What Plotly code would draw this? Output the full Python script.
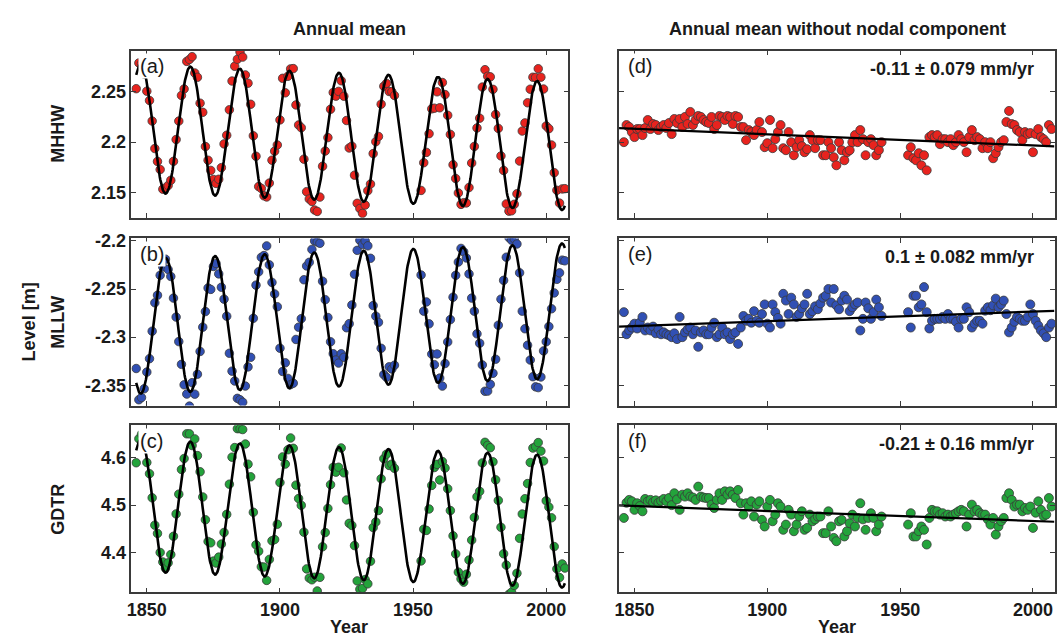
import numpy as np
import plotly.graph_objects as go

# ---------------- data ----------------
# Residual annual means (panels d, e, f), values in metres
years_early_start = 1846   # first segment 1846-1943
years_late_start = 1953    # second segment 1953-2007

mhhw_res_early = [
    2.200, 2.217, 2.215, 2.210,
    2.205, 2.213, 2.213, 2.207, 2.214, 2.222, 2.213, 2.218, 2.217, 2.212,
    2.215, 2.217, 2.214, 2.219, 2.208, 2.223, 2.219, 2.223, 2.215, 2.225,
    2.218, 2.230, 2.217, 2.222, 2.226, 2.225, 2.222, 2.220, 2.219, 2.225,
    2.213, 2.217, 2.226, 2.225, 2.222, 2.226, 2.225, 2.218, 2.226, 2.225,
    2.215, 2.215, 2.202, 2.212, 2.210, 2.207, 2.212, 2.220, 2.210, 2.195,
    2.199, 2.222, 2.194, 2.203, 2.210, 2.217, 2.194, 2.192, 2.210, 2.200,
    2.187, 2.195, 2.202, 2.196, 2.190, 2.193, 2.207, 2.202, 2.194, 2.202,
    2.202, 2.187, 2.187, 2.200, 2.194, 2.185, 2.177, 2.200, 2.192, 2.182,
    2.190, 2.192, 2.200, 2.207, 2.200, 2.212, 2.203, 2.187, 2.200, 2.203,
    2.197, 2.187, 2.192, 2.200]
mhhw_res_late = [
    2.187, 2.195, 2.184, 2.182, 2.189, 2.177, 2.187,
    2.172, 2.205, 2.207, 2.205, 2.207, 2.198, 2.203, 2.203, 2.200, 2.203,
    2.197, 2.200, 2.207, 2.203, 2.200, 2.190, 2.205, 2.212, 2.202, 2.205,
    2.203, 2.194, 2.200, 2.194, 2.200, 2.184, 2.189, 2.195, 2.200, 2.202,
    2.220, 2.231, 2.218, 2.217, 2.212, 2.210, 2.202, 2.210, 2.208, 2.209,
    2.190, 2.208, 2.213, 2.205, 2.203, 2.200, 2.217, 2.213]

mllw_res_early = [
    -2.274, -2.297, -2.293, -2.290,
    -2.286, -2.291, -2.285, -2.279, -2.293, -2.290, -2.293, -2.289, -2.296, -2.292,
    -2.297, -2.295, -2.297, -2.298, -2.300, -2.296, -2.302, -2.279, -2.300, -2.295,
    -2.292, -2.290, -2.297, -2.293, -2.310, -2.295, -2.293, -2.297, -2.297, -2.290,
    -2.285, -2.300, -2.297, -2.290, -2.297, -2.295, -2.302, -2.297, -2.295, -2.307,
    -2.290, -2.278, -2.283, -2.281, -2.285, -2.273, -2.283, -2.285, -2.276, -2.266,
    -2.286, -2.290, -2.266, -2.274, -2.280, -2.286, -2.255, -2.262, -2.276, -2.259,
    -2.266, -2.279, -2.276, -2.270, -2.266, -2.255, -2.276, -2.273, -2.268, -2.271,
    -2.265, -2.259, -2.257, -2.250, -2.264, -2.250, -2.267, -2.271, -2.262, -2.257,
    -2.261, -2.273, -2.269, -2.266, -2.264, -2.293, -2.281, -2.264, -2.270, -2.281,
    -2.274, -2.261, -2.269, -2.278]
mllw_res_late = [
    -2.274, -2.290, -2.257, -2.257, -2.269, -2.266, -2.248,
    -2.274, -2.291, -2.283, -2.281, -2.281, -2.281, -2.279, -2.281, -2.276, -2.281,
    -2.281, -2.284, -2.290, -2.281, -2.281, -2.269, -2.274, -2.290, -2.286, -2.283,
    -2.283, -2.286, -2.2725, -2.269, -2.272, -2.267, -2.260, -2.269, -2.266, -2.262,
    -2.276, -2.295, -2.290, -2.284, -2.279, -2.281, -2.283, -2.283, -2.279, -2.266,
    -2.276, -2.283, -2.288, -2.293, -2.296, -2.300, -2.290, -2.286]

gdtr_res_early = [
    4.473, 4.505, 4.511, 4.508,
    4.490, 4.504, 4.498, 4.487, 4.513, 4.508, 4.511, 4.506, 4.510, 4.505,
    4.509, 4.513, 4.508, 4.515, 4.500, 4.525, 4.512, 4.490, 4.522, 4.518,
    4.525, 4.518, 4.516, 4.511, 4.539, 4.518, 4.516, 4.515, 4.515, 4.501,
    4.494, 4.511, 4.525, 4.511, 4.529, 4.522, 4.529, 4.522, 4.515, 4.532,
    4.504, 4.480, 4.504, 4.497, 4.508, 4.476, 4.501, 4.508, 4.469, 4.455,
    4.497, 4.511, 4.466, 4.480, 4.504, 4.497, 4.448, 4.459, 4.490, 4.480,
    4.445, 4.459, 4.476, 4.487, 4.448, 4.452, 4.480, 4.466, 4.470, 4.476,
    4.476, 4.441, 4.441, 4.487, 4.455, 4.431, 4.424, 4.466, 4.469, 4.434,
    4.445, 4.462, 4.480, 4.455, 4.473, 4.504, 4.470, 4.448, 4.473, 4.483,
    4.473, 4.445, 4.459, 4.476]
gdtr_res_late = [
    4.459, 4.483, 4.434, 4.434, 4.445, 4.455, 4.448,
    4.417, 4.473, 4.490, 4.487, 4.487, 4.480, 4.483, 4.476, 4.480, 4.476,
    4.480, 4.483, 4.487, 4.490, 4.487, 4.455, 4.480, 4.501, 4.487, 4.490,
    4.483, 4.480, 4.480, 4.470, 4.459, 4.473, 4.438, 4.455, 4.466, 4.473,
    4.515, 4.525, 4.511, 4.497, 4.501, 4.501, 4.487, 4.494, 4.490, 4.497,
    4.452, 4.484, 4.508, 4.490, 4.477, 4.480, 4.515, 4.497]

# Fitted model parameters
nodal_period = 18.61          # years
nodal_peak_year = 1996.6      # year of a maximum of the MHHW / GDTR cycle
curve_start, curve_end = 1846.0, 2007.0
trend_ref_year = 1844.0
# name: (level at ref year [m], trend [m/yr], nodal amplitude [m], sign)
fit_params = {
    "MHHW": (2.2139, -0.00011, 0.0635, 1.0),
    "MLLW": (-2.2890, 0.00010, 0.0700, -1.0),
    "GDTR": (4.4994, -0.00021, 0.1390, 1.0),
}
trend_labels = {"MHHW": "-0.11 ± 0.079 mm/yr",
                "MLLW": "0.1 ± 0.082 mm/yr",
                "GDTR": "-0.21 ± 0.16 mm/yr"}

series_names = ["MHHW", "MLLW", "GDTR"]
residuals = {"MHHW": (mhhw_res_early, mhhw_res_late),
             "MLLW": (mllw_res_early, mllw_res_late),
             "GDTR": (gdtr_res_early, gdtr_res_late)}
colors = {"MHHW": "#e8231e", "MLLW": "#3150b4", "GDTR": "#23a33b"}

y_ranges = {"MHHW": [2.125, 2.291], "MLLW": [-2.371, -2.1975], "GDTR": [4.316, 4.668]}
y_ticks = {"MHHW": [2.15, 2.2, 2.25], "MLLW": [-2.35, -2.3, -2.25, -2.2],
           "GDTR": [4.4, 4.5, 4.6]}
y_ticktext = {"MHHW": ["2.15", "2.2", "2.25"], "MLLW": ["-2.35", "-2.3", "-2.25", "-2.2"],
              "GDTR": ["4.4", "4.5", "4.6"]}
x_range = [1844.2, 2008.3]
x_ticks = [1850, 1900, 1950, 2000]
panel_letters = [["(a)", "(d)"], ["(b)", "(e)"], ["(c)", "(f)"]]

# ---------------- layout geometry ----------------
W, H = 1057, 637
col_px = [(127, 566), (617, 1055)]
row_px = [(44, 213), (234, 403), (423, 592)]


def xd(px):
    return px / W


def yd(py):
    return 1 - py / H


def nodal(name, t):
    lvl, tr, amp, sgn = fit_params[name]
    return sgn * amp * np.cos(2 * np.pi * (np.asarray(t) - nodal_peak_year) / nodal_period)


def trend(name, t):
    lvl, tr, amp, sgn = fit_params[name]
    return lvl + tr * (np.asarray(t) - trend_ref_year)


FONT = "Liberation Sans, Arial"
fig = go.Figure()
axis_common = dict(showline=True, linecolor="#3a3a3a", linewidth=1.6, mirror="ticks",
                   ticks="inside", ticklen=5, tickwidth=1.2, tickcolor="#3a3a3a",
                   showgrid=False, zeroline=False,
                   tickfont=dict(family=FONT, size=18, color="#1a1a1a", weight="bold"))
annotations = []
font_b = dict(family=FONT, size=18, color="#1a1a1a")

for r, name in enumerate(series_names):
    early, late = residuals[name]
    yrs = [years_early_start + i for i in range(len(early))] + \
          [years_late_start + i for i in range(len(late))]
    res = np.array(early + late)
    yrs_arr = np.array(yrs, dtype=float)
    annual = res + nodal(name, yrs_arr)
    t_fit = np.linspace(curve_start, curve_end, 800)
    for c in range(2):
        n = r * 2 + c + 1
        xa = "x" if n == 1 else f"x{n}"
        ya = "y" if n == 1 else f"y{n}"
        yvals = annual if c == 0 else res
        fig.add_trace(go.Scatter(
            x=yrs, y=yvals, mode="markers", xaxis=xa, yaxis=ya, showlegend=False,
            marker=dict(size=8.5 if c == 0 else 9, color=colors[name],
                        line=dict(width=0.8, color="#3a3a3a"))))
        if c == 0:
            fit_y = trend(name, t_fit) + nodal(name, t_fit)
            fig.add_trace(go.Scatter(x=t_fit, y=fit_y, mode="lines", xaxis=xa, yaxis=ya,
                                     showlegend=False, line=dict(color="black", width=2.6)))
        else:
            tl = np.array([curve_start - 2, curve_end + 1])
            fig.add_trace(go.Scatter(x=tl, y=trend(name, tl), mode="lines", xaxis=xa, yaxis=ya,
                                     showlegend=False, line=dict(color="black", width=2.2)))
        x0, x1 = col_px[c]
        y0, y1 = row_px[r]
        fig.update_layout(**{
            ("xaxis" if n == 1 else f"xaxis{n}"): dict(
                axis_common, domain=[xd(x0), xd(x1)], anchor=ya, range=x_range,
                tickvals=x_ticks, showticklabels=(r == 2)),
            ("yaxis" if n == 1 else f"yaxis{n}"): dict(
                axis_common, domain=[yd(y1), yd(y0)], anchor=xa, range=y_ranges[name],
                tickvals=y_ticks[name], ticktext=y_ticktext[name],
                showticklabels=(c == 0)),
        })
        # panel letter (white box, covers the marks beneath like the original)
        annotations.append(dict(text=panel_letters[r][c], x=xd(x0 + 7), y=yd(y0 + 16),
                                xref="paper", yref="paper", xanchor="left", yanchor="middle",
                                showarrow=False, bgcolor="white", borderpad=1,
                                font=dict(family=FONT, size=20, color="#1a1a1a")))
        if c == 1:
            annotations.append(dict(text="<b>" + trend_labels[name] + "</b>", x=xd(x1 - 19),
                                    y=yd(y0 + 19), xref="paper", yref="paper",
                                    xanchor="right", yanchor="middle", showarrow=False,
                                    font=font_b))
    # row label
    annotations.append(dict(text="<b>" + name + "</b>", x=xd(53),
                            y=yd((row_px[r][0] + row_px[r][1]) / 2),
                            xref="paper", yref="paper", textangle=-90, showarrow=False,
                            xanchor="center", yanchor="middle", font=font_b))

annotations.append(dict(text="<b>Level [m]</b>", x=xd(24), y=yd(318), xref="paper", yref="paper",
                        textangle=-90, showarrow=False, xanchor="center", yanchor="middle",
                        font=font_b))
annotations.append(dict(text="<b>Annual mean</b>", x=xd(346), y=yd(22), xref="paper",
                        yref="paper", showarrow=False, xanchor="center", yanchor="middle",
                        font=font_b))
annotations.append(dict(text="<b>Annual mean without nodal component</b>", x=xd(836), y=yd(22),
                        xref="paper", yref="paper", showarrow=False, xanchor="center",
                        yanchor="middle", font=font_b))
for cx in (346, 836):
    annotations.append(dict(text="<b>Year</b>", x=xd(cx), y=yd(627), xref="paper", yref="paper",
                            showarrow=False, xanchor="center", yanchor="middle", font=font_b))

fig.update_layout(width=W, height=H, margin=dict(l=0, r=0, t=0, b=0),
                  paper_bgcolor="white", plot_bgcolor="white", annotations=annotations)

fig.write_html("out.html")
